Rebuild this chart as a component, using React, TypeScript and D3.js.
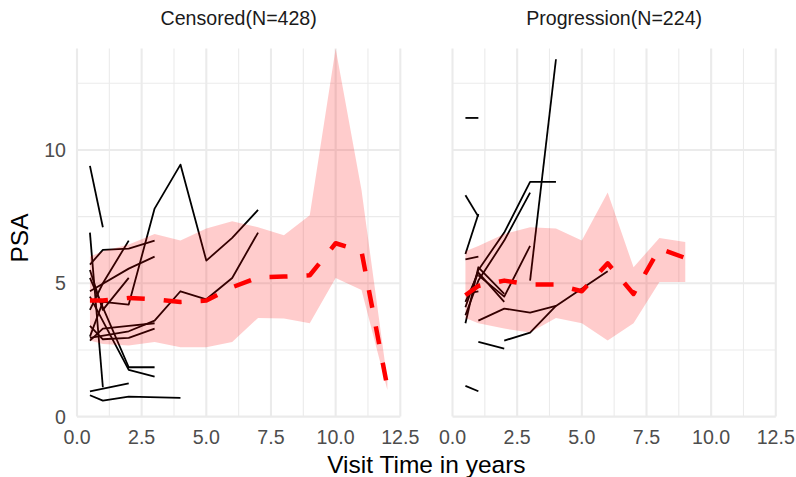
import React from 'react';
import * as d3 from 'd3';

const W = 796;
const H = 477;

const xTicks = [0, 2.5, 5, 7.5, 10, 12.5];
const xMinor = [1.25, 3.75, 6.25, 8.75, 11.25];
const yTicks = [0, 5, 10];
const yMinor = [2.5, 7.5, 12.5];
const panelNames = ['Censored(N=428)', 'Progression(N=224)'];

// Censored panel summary
const censoredTime = [0.5, 1, 2, 3, 4, 5, 6, 7, 8, 9, 10, 11, 12];
const censoredMean = [4.35, 4.35, 4.45, 4.4, 4.3, 4.35, 4.85, 5.22, 5.25, 5.3, 6.5, 6.2, 1.1];
const censoredLower = [2.85, 2.72, 2.67, 2.8, 2.6, 2.6, 2.8, 3.7, 3.68, 3.5, 5.2, 4.75, 1.0];
const censoredUpper = [6.0, 6.2, 6.45, 6.85, 6.6, 7.05, 7.33, 7.1, 6.8, 7.55, 13.8, 8.5, 1.35];

// Progression panel summary
const progressionTime = [0.5, 1, 2, 3, 4, 5, 6, 7, 8, 9];
const progressionMean = [4.55, 4.9, 5.1, 4.95, 4.95, 4.7, 5.75, 4.6, 6.3, 5.95];
const progressionLower = [3.7, 3.5, 3.3, 3.15, 3.7, 3.5, 2.85, 3.5, 5.05, 5.05];
const progressionUpper = [6.2, 6.4, 6.85, 7.1, 7.05, 6.6, 8.4, 5.6, 6.7, 6.55];

// Individual subject trajectories [time, PSA]
const censoredSubjects: number[][][] = [
  [[0.5, 9.4], [1, 7.1]],
  [[0.5, 3.0], [1, 4.3], [2, 4.2], [3, 7.8], [4, 9.45], [5, 5.85], [6, 6.7], [7, 7.75]],
  [[0.5, 6.9], [1, 1.1]],
  [[0.5, 0.95], [2, 1.25]],
  [[0.5, 0.8], [1, 0.6], [2, 0.75], [4, 0.7]],
  [[0.5, 4.5], [2, 1.75], [3, 1.5]],
  [[0.5, 5.2], [1, 4.1], [2, 1.85], [3, 1.85]],
  [[0.5, 5.7], [1, 6.25], [2, 6.3], [3, 6.6]],
  [[0.5, 4.0], [1, 5.0], [2, 6.6]],
  [[0.5, 4.7], [2, 5.55], [3, 6.0]],
  [[0.5, 2.95], [2, 3.2], [3, 3.6], [4, 4.7], [5, 4.4], [6, 5.2], [7, 6.9]],
  [[0.5, 2.85], [1, 3.3], [2, 3.4], [3, 3.5]],
  [[0.5, 5.5], [1, 4.0], [2, 5.2]],
  [[0.5, 3.4], [1, 2.9], [2, 2.95], [3, 3.3]],
];

const progressionSubjects: number[][][] = [
  [[0.5, 11.2], [1, 11.2]],
  [[0.5, 8.3], [1, 7.5]],
  [[0.5, 6.1], [1, 7.6]],
  [[3, 5.1], [4, 13.4]],
  [[0.5, 4.1], [1, 5.5], [2, 6.9], [3, 8.8], [4, 8.8]],
  [[0.5, 3.8], [1, 5.1], [2, 6.6], [3, 8.4]],
  [[1, 5.3], [2, 4.5], [3, 6.4]],
  [[0.5, 3.5], [1, 5.6], [2, 4.6]],
  [[0.5, 5.9], [1, 6.0]],
  [[1, 3.6], [2, 4.05], [3, 3.9], [4, 4.15], [6, 5.45]],
  [[1, 2.8], [2, 2.55]],
  [[2, 2.85], [3, 3.15], [4, 4.15]],
  [[0.5, 1.15], [1, 0.95]],
  [[0.5, 4.3], [1, 5.4], [2, 4.3]],
  [[0.5, 4.6], [1, 4.7]],
];

const FONT = "'Liberation Sans', Arial, Helvetica, sans-serif";
const panelX = [
  [77, 400.3],
  [452.5, 775.8],
];
const yTop = 48.6;
const yBottom = 416.6;

const panels = [
  {
    name: panelNames[0],
    time: censoredTime,
    mean: censoredMean,
    lower: censoredLower,
    upper: censoredUpper,
    subjects: censoredSubjects,
  },
  {
    name: panelNames[1],
    time: progressionTime,
    mean: progressionMean,
    lower: progressionLower,
    upper: progressionUpper,
    subjects: progressionSubjects,
  },
];

export default function App() {
  const y = d3.scaleLinear().domain([0, 13.8]).range([yBottom, yTop]);
  const gridColor = '#EBEBEB';

  return (
    <svg
      width={W}
      height={H}
      style={{ position: 'fixed', left: 0, top: 0, background: '#fff' }}
      fontFamily={FONT}
    >
      <rect x={0} y={0} width={W} height={H} fill="#fff" />
      {panels.map((p, pi) => {
        const x = d3.scaleLinear().domain([0, 12.5]).range(panelX[pi]);
        const [x0, x1] = panelX[pi];
        const line = d3
          .line<number[]>()
          .x((d) => x(d[0]))
          .y((d) => y(d[1]));
        const area = d3
          .area<number>()
          .x((_, i) => x(p.time[i]))
          .y0((_, i) => y(p.lower[i]))
          .y1((_, i) => y(p.upper[i]));
        const meanPts = p.time.map((t, i) => [t, p.mean[i]]);
        return (
          <g key={p.name}>
            {yMinor.map((v) => (
              <line key={'ym' + v} x1={x0} x2={x1} y1={y(v)} y2={y(v)} stroke={gridColor} strokeWidth={1.1} />
            ))}
            {xMinor.map((v) => (
              <line key={'xm' + v} x1={x(v)} x2={x(v)} y1={yTop} y2={yBottom} stroke={gridColor} strokeWidth={1.1} />
            ))}
            {yTicks.map((v) => (
              <line key={'yM' + v} x1={x0} x2={x1} y1={y(v)} y2={y(v)} stroke={gridColor} strokeWidth={2.1} />
            ))}
            {xTicks.map((v) => (
              <line key={'xM' + v} x1={x(v)} x2={x(v)} y1={yTop} y2={yBottom} stroke={gridColor} strokeWidth={2.1} />
            ))}
            {p.subjects.map((s, si) => (
              <path
                key={'s' + si}
                d={line(s) || ''}
                fill="none"
                stroke="#000"
                strokeWidth={1.8}
                strokeLinejoin="round"
              />
            ))}
            <path d={area(p.time) || ''} fill="#FF0000" fillOpacity={0.2} stroke="none" />
            <path
              d={line(meanPts) || ''}
              fill="none"
              stroke="#FF0000"
              strokeWidth={4.5}
              strokeDasharray="18 19"
              strokeLinejoin="round"
            />
            <text x={(x0 + x1) / 2} y={25} textAnchor="middle" fontSize={19.6} fill="#1A1A1A">
              {p.name}
            </text>
            {xTicks.map((v) => (
              <text key={'xl' + v} x={x(v)} y={444} textAnchor="middle" fontSize={19.6} fill="#4D4D4D">
                {d3.format('.1f')(v)}
              </text>
            ))}
          </g>
        );
      })}
      {yTicks.map((v) => (
        <text key={'yl' + v} x={66} y={y(v) + 7} textAnchor="end" fontSize={19.6} fill="#4D4D4D">
          {v}
        </text>
      ))}
      <text x={(panelX[0][0] + panelX[1][1]) / 2} y={473} textAnchor="middle" fontSize={24.5} fill="#000">
        Visit Time in years
      </text>
      <text
        transform={`translate(${28},${238}) rotate(-90)`}
        textAnchor="middle"
        fontSize={24.5}
        fill="#000"
      >
        PSA
      </text>
    </svg>
  );
}
